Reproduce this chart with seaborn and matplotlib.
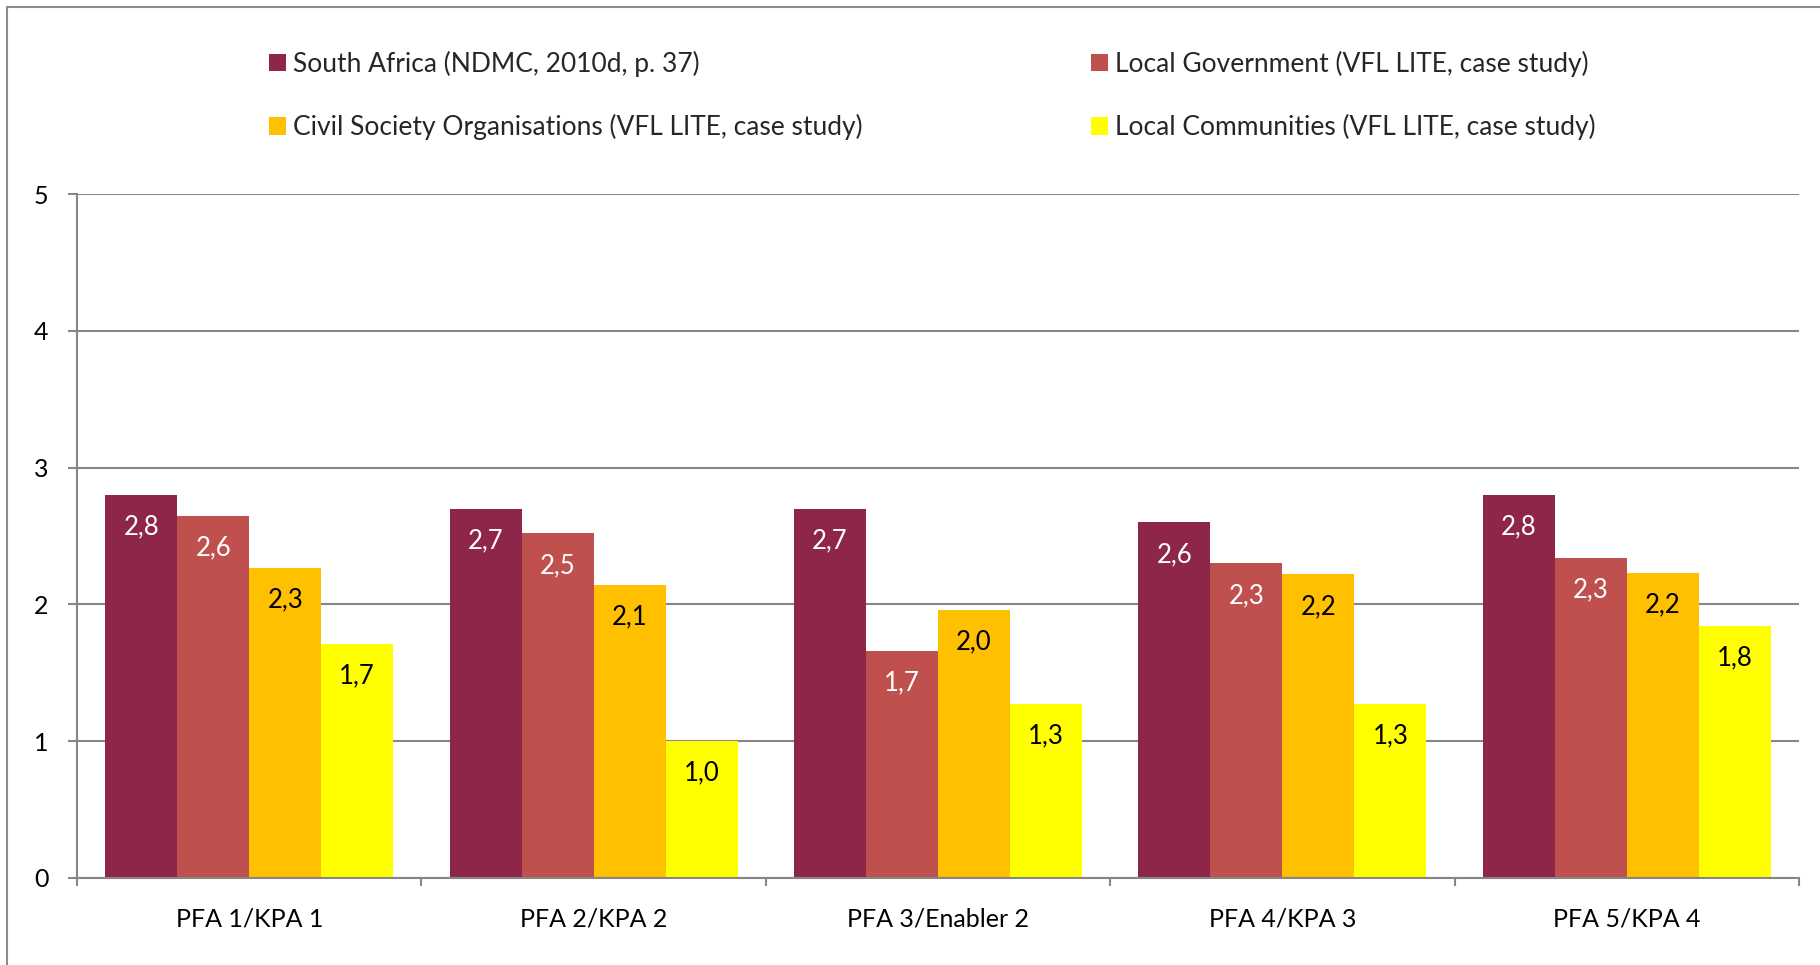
import numpy as np
import pandas as pd
import matplotlib
matplotlib.use('Agg')
import matplotlib.pyplot as plt
from matplotlib.patches import Patch
from matplotlib.lines import Line2D
import seaborn as sns

# values
categories = ['PFA 1/KPA 1', 'PFA 2/KPA 2', 'PFA 3/Enabler 2', 'PFA 4/KPA 3', 'PFA 5/KPA 4']
series = ['South Africa (NDMC, 2010d, p. 37)',
          'Local Government (VFL LITE, case study)',
          'Civil Society Organisations (VFL LITE, case study)',
          'Local Communities (VFL LITE, case study)']
south_africa = [2.80, 2.70, 2.70, 2.60, 2.80]
local_gov = [2.65, 2.52, 1.66, 2.30, 2.34]
civil_society = [2.27, 2.14, 1.96, 2.22, 2.23]
local_comm = [1.71, 1.00, 1.27, 1.27, 1.84]
colors = ['#8E2649', '#C0504D', '#FFC000', '#FFFF00']
label_colors = ['white', 'white', 'black', 'black']

rows = []
for s, vals in zip(series, [south_africa, local_gov, civil_society, local_comm]):
    for c, v in zip(categories, vals):
        rows.append({'area': c, 'source': s, 'score': v})
df = pd.DataFrame(rows)

sns.set_theme(style='white')
plt.rcParams['font.family'] = ['Lato', 'DejaVu Sans']

fig = plt.figure(figsize=(18.2, 9.65), dpi=100)
ax = fig.add_axes([0.0423, 0.0902, 0.9462, 0.7085])

sns.barplot(data=df, x='area', y='score', hue='source', order=categories,
            hue_order=series, palette=colors, saturation=1, width=0.836,
            errorbar=None, linewidth=0, legend=False, ax=ax)

grid_col = '#868686'
ax.set_ylim(0, 5)
ax.set_xlim(-0.5, len(categories) - 0.5)
ax.set_yticks(range(0, 6))
ax.yaxis.grid(True, color=grid_col, linewidth=1.5)
ax.set_axisbelow(True)
for side in ['top', 'right']:
    ax.spines[side].set_visible(False)
for side in ['left', 'bottom']:
    ax.spines[side].set_color(grid_col)
    ax.spines[side].set_linewidth(1.5)
ax.set_xlabel('')
ax.set_ylabel('')
ax.set_xticks(np.arange(-0.5, len(categories), 1), minor=True)
ax.tick_params(axis='x', which='major', length=0, pad=21, labelsize=18, colors='black')
ax.tick_params(axis='x', which='minor', length=6, width=1.5, color=grid_col, bottom=True)
ax.tick_params(axis='y', which='major', length=6.5, width=1.5, color=grid_col, pad=14,
               labelsize=18, labelcolor='black', left=True)

# value labels inside the top of each bar
for cont, lc in zip(ax.containers, label_colors):
    for bar in cont:
        h = bar.get_height()
        ax.annotate(f'{h:.1f}'.replace('.', ','),
                    xy=(bar.get_x() + bar.get_width() / 2, h),
                    xytext=(0, -23), textcoords='offset points',
                    ha='center', va='center', fontsize=18.5, color=lc)

# legend in two columns
handles = [Patch(facecolor=c, edgecolor='none') for c in colors]
leg_kw = dict(loc='upper left', frameon=False, fontsize=19, borderpad=0,
              handlelength=0.62, handleheight=0.65, handletextpad=0.3,
              labelspacing=1.4)
fig.legend([handles[0], handles[2]], [series[0], series[2]],
           bbox_to_anchor=(256 / 1820, 0.961), **leg_kw)
fig.legend([handles[1], handles[3]], [series[1], series[3]],
           bbox_to_anchor=(1078 / 1820, 0.961), **leg_kw)

# outer chart border (left and top)
fig.add_artist(Line2D([7 / 1820, 7 / 1820], [0, 1 - 7 / 965], transform=fig.transFigure,
                      color='#8C8C8C', linewidth=1.5))
fig.add_artist(Line2D([7 / 1820, 1], [1 - 7 / 965, 1 - 7 / 965], transform=fig.transFigure,
                      color='#8C8C8C', linewidth=1.5))

fig.savefig('out.png', dpi=100)
